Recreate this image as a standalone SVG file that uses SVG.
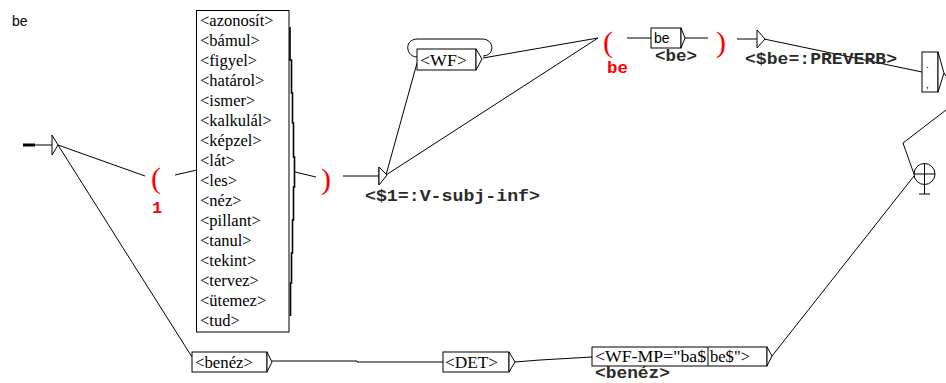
<svg xmlns="http://www.w3.org/2000/svg" width="946" height="383" viewBox="0 0 946 383">
<style>
  .ln{fill:none;stroke:#000;stroke-width:1}
  .bx{fill:#fff;stroke:#000;stroke-width:1}
  .sr{font-family:"Liberation Serif","Times New Roman",serif;font-size:16.5px;fill:#000}
  .ss{font-family:"Liberation Sans",Arial,sans-serif;fill:#000}
  .mo{font-family:"Liberation Mono","Courier New",monospace;font-weight:bold;font-size:17px;fill:#2a2a2a}
  .red{fill:#ff0000}
  .par{font-family:"Liberation Serif","Times New Roman",serif;font-size:30px;fill:#ff0000}
</style>
<rect width="946" height="383" fill="#fff"/>
<text class="ss" x="12" y="26" font-size="14">be</text>

<g id="connectors">
  <line class="ln" x1="23" y1="145" x2="52" y2="145"/>
  <line x1="23" y1="145" x2="35" y2="145" stroke="#000" stroke-width="3"/>
  <polyline class="ln" points="58,145 145,176"/>
  <polyline class="ln" points="58,145 192,357"/>
  <polyline class="ln" points="175,175 197,170"/>
  <polyline class="ln" points="295,172 316,177"/>
  <polyline class="ln" points="343,176 379,176"/>
  <polyline class="ln" points="598,38 483,58"/>
  <polyline class="ln" points="598,38 386,175"/>
  <polyline class="ln" points="417,63 386,175"/>
  <path class="ln" d="M417,57 C406,57 403,39 418,39 L482,39 C495,39 495,56 483,56"/>
  <polyline class="ln" points="627,38 651,38"/>
  <polyline class="ln" points="685,38 708,38"/>
  <polyline class="ln" points="737,39 757,39"/>
  <polyline class="ln" points="764,39 922,72"/>
  <polyline class="ln" points="944,73 946,76"/>
  <polyline class="ln" points="946,110 903,143 914,174"/>
  <polyline class="ln" points="772,356 914,176"/>
  <polyline class="ln" points="272,361 357,361 357,362 443,362"/>
  <polyline class="ln" points="515,362 540,360 592,357"/>
</g>

<g id="entry">
  <polygon class="bx" points="52,135 58,145 52,155"/>
</g>

<g id="paren1">
  <text class="par" x="151" y="188">(</text>
  <text class="mo red" x="157" y="213" text-anchor="middle">1</text>
</g>

<g id="verblist">
  <rect class="bx" x="196.5" y="10.5" width="92.5" height="321.5"/>
  <polyline fill="none" stroke="#000" stroke-width="1.6" points="290,27 290,60 291.5,60 291.5,93 292.5,93 292.5,123 293.5,123 293.5,157 294.5,157 294.5,187 293.5,187 293.5,220 292.5,220 292.5,253 291.5,253 291.5,283 290.5,283 290.5,316"/>
  <text class="sr" x="200" y="26">&lt;azonosít&gt;</text>
  <text class="sr" x="200" y="46">&lt;bámul&gt;</text>
  <text class="sr" x="200" y="66">&lt;figyel&gt;</text>
  <text class="sr" x="200" y="86">&lt;határol&gt;</text>
  <text class="sr" x="200" y="106">&lt;ismer&gt;</text>
  <text class="sr" x="200" y="126">&lt;kalkulál&gt;</text>
  <text class="sr" x="200" y="146">&lt;képzel&gt;</text>
  <text class="sr" x="200" y="166">&lt;lát&gt;</text>
  <text class="sr" x="200" y="186">&lt;les&gt;</text>
  <text class="sr" x="200" y="206">&lt;néz&gt;</text>
  <text class="sr" x="200" y="226">&lt;pillant&gt;</text>
  <text class="sr" x="200" y="246">&lt;tanul&gt;</text>
  <text class="sr" x="200" y="266">&lt;tekint&gt;</text>
  <text class="sr" x="200" y="286">&lt;tervez&gt;</text>
  <text class="sr" x="200" y="306">&lt;ütemez&gt;</text>
  <text class="sr" x="200" y="326">&lt;tud&gt;</text>
</g>

<g id="paren1close">
  <text class="par" x="321" y="189">)</text>
</g>

<g id="var1">
  <line class="ln" x1="379" y1="167" x2="379" y2="185"/>
  <polygon class="bx" points="379,167 387,175 379,185"/>
  <text class="mo" x="365" y="201" textLength="175" lengthAdjust="spacingAndGlyphs">&lt;$1=:V-subj-inf&gt;</text>
</g>

<g id="wf">
  <rect class="bx" x="417" y="49" width="59" height="21"/>
  <polygon class="bx" points="476,49 482,59 476,70"/>
  <text class="sr" x="420" y="66" textLength="47" lengthAdjust="spacingAndGlyphs">&lt;WF&gt;</text>
</g>

<g id="parenbe">
  <text class="par" x="603" y="52">(</text>
  <text class="mo red" x="607" y="73" textLength="21" lengthAdjust="spacingAndGlyphs">be</text>
</g>

<g id="bebox">
  <rect class="bx" x="651" y="28" width="30" height="20"/>
  <polygon class="bx" points="681,28 685,38 681,48"/>
  <text class="ss" x="654" y="43" font-size="14">be</text>
  <text class="mo" x="655" y="61" textLength="42" lengthAdjust="spacingAndGlyphs">&lt;be&gt;</text>
</g>

<g id="parenbeclose">
  <text class="par" x="716" y="52">)</text>
</g>

<g id="preverb">
  <polygon class="bx" points="757,30 765,39 757,48"/>
  <text class="mo" x="745" y="64" textLength="152" lengthAdjust="spacingAndGlyphs">&lt;$be=:PREVERB&gt;</text>
</g>

<g id="punct">
  <rect class="bx" x="922" y="52" width="16" height="40"/>
  <polygon class="bx" points="938,52 944,73 938,92"/>
  <text class="ss" x="926" y="68" font-size="10">.</text>
  <text class="ss" x="926" y="88" font-size="10">,</text>
</g>

<g id="final">
  <circle class="ln" cx="924.5" cy="174" r="10.5"/>
  <line class="ln" x1="914" y1="174" x2="935" y2="174"/>
  <line class="ln" x1="924.5" y1="163.5" x2="924.5" y2="194"/>
  <line class="ln" x1="919" y1="194" x2="930" y2="194"/>
</g>

<g id="benez">
  <rect class="bx" x="192" y="352" width="75" height="20"/>
  <polygon class="bx" points="267,352 272,362 267,372"/>
  <text class="sr" x="195" y="368" textLength="58" lengthAdjust="spacingAndGlyphs">&lt;benéz&gt;</text>
</g>

<g id="det">
  <rect class="bx" x="443" y="352" width="66" height="20"/>
  <polygon class="bx" points="509,352 515,362 509,372"/>
  <text class="sr" x="445" y="368" textLength="53" lengthAdjust="spacingAndGlyphs">&lt;DET&gt;</text>
</g>

<g id="wfmp">
  <rect class="bx" x="592" y="347" width="175" height="19"/>
  <polygon class="bx" points="767,347 772,356 767,366"/>
  <line class="ln" x1="708" y1="347" x2="708" y2="366"/>
  <text class="sr" x="595" y="362" textLength="111" lengthAdjust="spacingAndGlyphs">&lt;WF-MP="ba$</text>
  <text class="sr" x="710" y="362" textLength="40" lengthAdjust="spacingAndGlyphs">be$"&gt;</text>
  <text class="mo" x="595" y="378" font-size="15" textLength="75" lengthAdjust="spacingAndGlyphs">&lt;benéz&gt;</text>
</g>
</svg>
